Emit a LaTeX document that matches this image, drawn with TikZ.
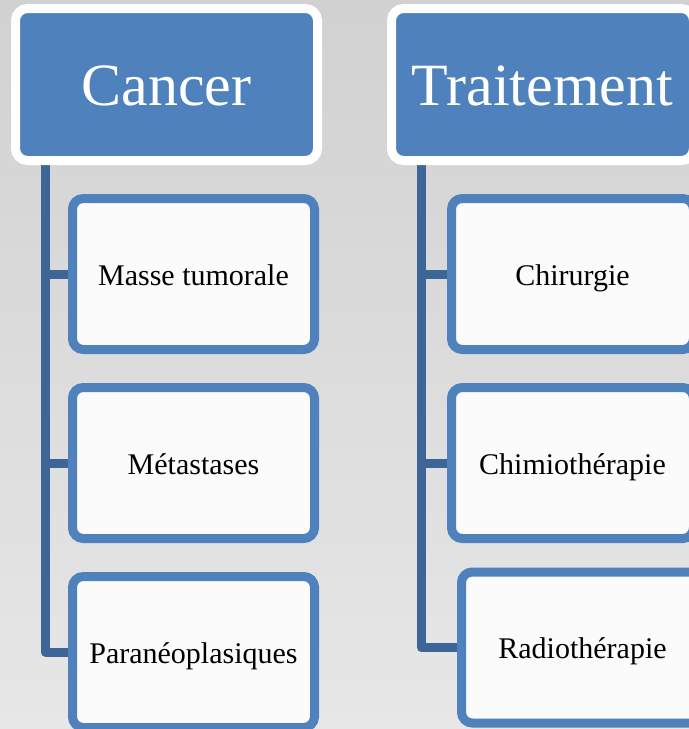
\documentclass[tikz,border=0pt]{standalone}
\usepackage{fontspec}
\setmainfont{Liberation Serif}
\usetikzlibrary{backgrounds}
\pgfdeclarelayer{bg}
\pgfsetlayers{bg,background,main}
\definecolor{ablue}{HTML}{4F81BD}
\definecolor{cblue}{HTML}{3D6597}
\definecolor{bgtop}{HTML}{D1D1D1}
\definecolor{bgbot}{HTML}{E7E7E7}
\definecolor{cfill}{HTML}{FBFBFB}
\tikzset{
 parent/.style={draw=white, fill=ablue, line width=6.75pt, rounded corners=9pt,
   minimum width=226.5pt, minimum height=114pt, inner sep=0pt, text=white,
   text height=40pt, text depth=9.2pt,
   font=\fontsize{45}{54}\selectfont},
 child/.style={draw=ablue, fill=cfill, line width=6.75pt, rounded corners=8pt,
   minimum width=181.5pt, minimum height=113.25pt, inner sep=0pt, text=black,
   text height=21pt, text depth=4.5pt,
   font=\fontsize{22.5}{27}\selectfont},
 conn/.style={draw=cblue, line width=6.75pt, line join=round}
}
\begin{document}
\begin{tikzpicture}[x=0.75pt,y=-0.75pt]
\useasboundingbox (0,0) rectangle (689,729);
\clip (0,0) rectangle (689,729);
\begin{pgfonlayer}{bg}
\shade[top color=bgtop,bottom color=bgbot] (0,0) rectangle (689,729);
\end{pgfonlayer}
% parents
\node[parent] (cancer) at (166.5,84.5) {Cancer};
\node[parent] (trait) at (542.5,84.5) {Traitement};
% children
\node[child] (masse) at (193.5,274) {Masse tumorale};
\node[child] (meta) at (193.5,463) {Métastases};
\node[child] (para) at (193.5,652) {Paranéoplasiques};
\node[child] (chir) at (572.5,274) {Chirurgie};
\node[child] (chimio) at (572.5,463) {Chimiothérapie};
\node[child] (radio) at (582.5,647.5) {Radiothérapie};
% connectors
\coordinate (ltop) at (45.5,150);
\coordinate (rtop) at (421.5,150);
\begin{pgfonlayer}{background}
\draw[conn] (ltop) |- (para.west);
\draw[conn] (masse.west) -- (masse.west -| ltop);
\draw[conn] (meta.west) -- (meta.west -| ltop);
\draw[conn] (rtop) |- (radio.west);
\draw[conn] (chir.west) -- (chir.west -| rtop);
\draw[conn] (chimio.west) -- (chimio.west -| rtop);
\end{pgfonlayer}
\end{tikzpicture}
\end{document}
